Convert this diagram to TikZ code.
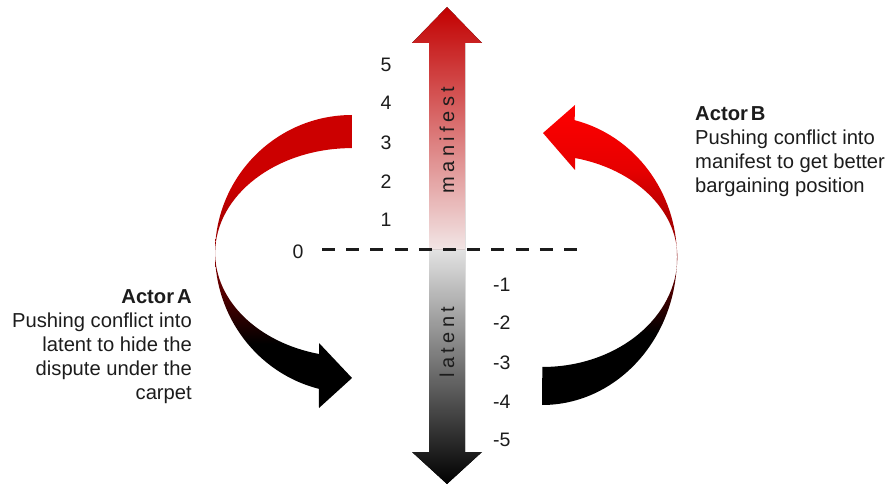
\documentclass[tikz,border=0pt]{standalone}
\usepackage{fontspec}
\setmainfont{Liberation Sans}
\usetikzlibrary{positioning}
\definecolor{ink}{HTML}{1C1C1C}
\definecolor{arrowred}{HTML}{C20000}
\definecolor{arrowpale}{HTML}{F2E6E6}
\definecolor{arrowgrey}{HTML}{E2E2E2}
\definecolor{redA}{HTML}{CC0000}
\definecolor{redB}{HTML}{FF0000}
\definecolor{redmid}{HTML}{860000}
\pgfdeclareverticalshading{ribbonA}{100bp}{color(0bp)=(black); color(36bp)=(black); color(50bp)=(redmid); color(63bp)=(redA); color(100bp)=(redA)}
\pgfdeclareverticalshading{ribbonB}{100bp}{color(0bp)=(black); color(37bp)=(black); color(50bp)=(redmid); color(64bp)=(redB!90!black); color(75bp)=(redB); color(100bp)=(redB)}
\newcommand{\actorname}[1]{\textbf{Actor\hspace{0.15em}#1}}
\begin{document}
\begin{tikzpicture}[x=1pt,y=-1pt,
  num/.style={font=\fontsize{19.5}{22}\selectfont,text=ink,inner sep=0pt},
  axislabel/.style={font=\fontsize{20}{22}\selectfont\addfontfeature{LetterSpace=22},text=ink,rotate=90,inner sep=0pt},
  actor/.style={font=\fontsize{20.2}{24.2}\selectfont,text=ink,inner sep=0pt},
  dashline/.style={ink,line width=3pt,dash pattern=on 13pt off 11.2pt}]
  \useasboundingbox (0,0) rectangle (888,486);
  % scale arrow
  \fill[top color=arrowred,bottom color=arrowpale] (429,250) -- (429,43) -- (412,43) -- (447,7)
    -- (482,43) -- (465,43) -- (465,250) -- cycle;
  \fill[top color=arrowgrey,bottom color=black] (429,250) -- (429,452) -- (412,452) -- (447,484)
    -- (482,452) -- (465,452) -- (465,250) -- cycle;
  \node[axislabel] (manifest) at (447,140) {manifest};
  \node[axislabel] (latent) at (447,342) {latent};
  % ribbons
  \shade[shading=ribbonA] (352,115) arc[start angle=-90,end angle=-180,x radius=137,y radius=138]
    arc[start angle=180,end angle=104,x radius=137,y radius=140] -- (319,408) -- (352,378)
    -- (319,343) -- (319,354) arc[start angle=104,end angle=180,x radius=137,y radius=104]
    arc[start angle=-180,end angle=-90,x radius=137,y radius=105] -- cycle;
  \shade[shading=ribbonB] (542,405) arc[start angle=90,end angle=0,x radius=135,y radius=148]
    arc[start angle=0,end angle=-76,x radius=135,y radius=141] -- (575,105) -- (543,133)
    -- (575,170) -- (575,158) arc[start angle=-76,end angle=0,x radius=135,y radius=102]
    arc[start angle=0,end angle=90,x radius=135,y radius=110] -- cycle;
  % levels
  \node[num] (zero) at (298,252) {0};
  \foreach \v/\y in {5/65,4/103,3/143,2/182,1/220} \node[num] (p\v) at (386,\y) {\v};
  \foreach \v/\y in {1/285,2/323,3/363,4/402,5/440} \node[num,anchor=west] (m\v) at (493,\y) {-\v};
  \coordinate (dashstart) at (322,250); \coordinate (dashend) at (582,250);
  \draw[dashline] (dashstart) -- (dashend);
  % actors
  \node[actor,align=right,anchor=north east] (actorA) at (192,289)
    {\actorname{A}\\Pushing conflict into\\latent to hide the\\dispute under the\\carpet};
  \node[actor,align=left,anchor=north west] (actorB) at (695,106)
    {\actorname{B}\\Pushing conflict into\\manifest to get better\\bargaining position};
\end{tikzpicture}
\end{document}
